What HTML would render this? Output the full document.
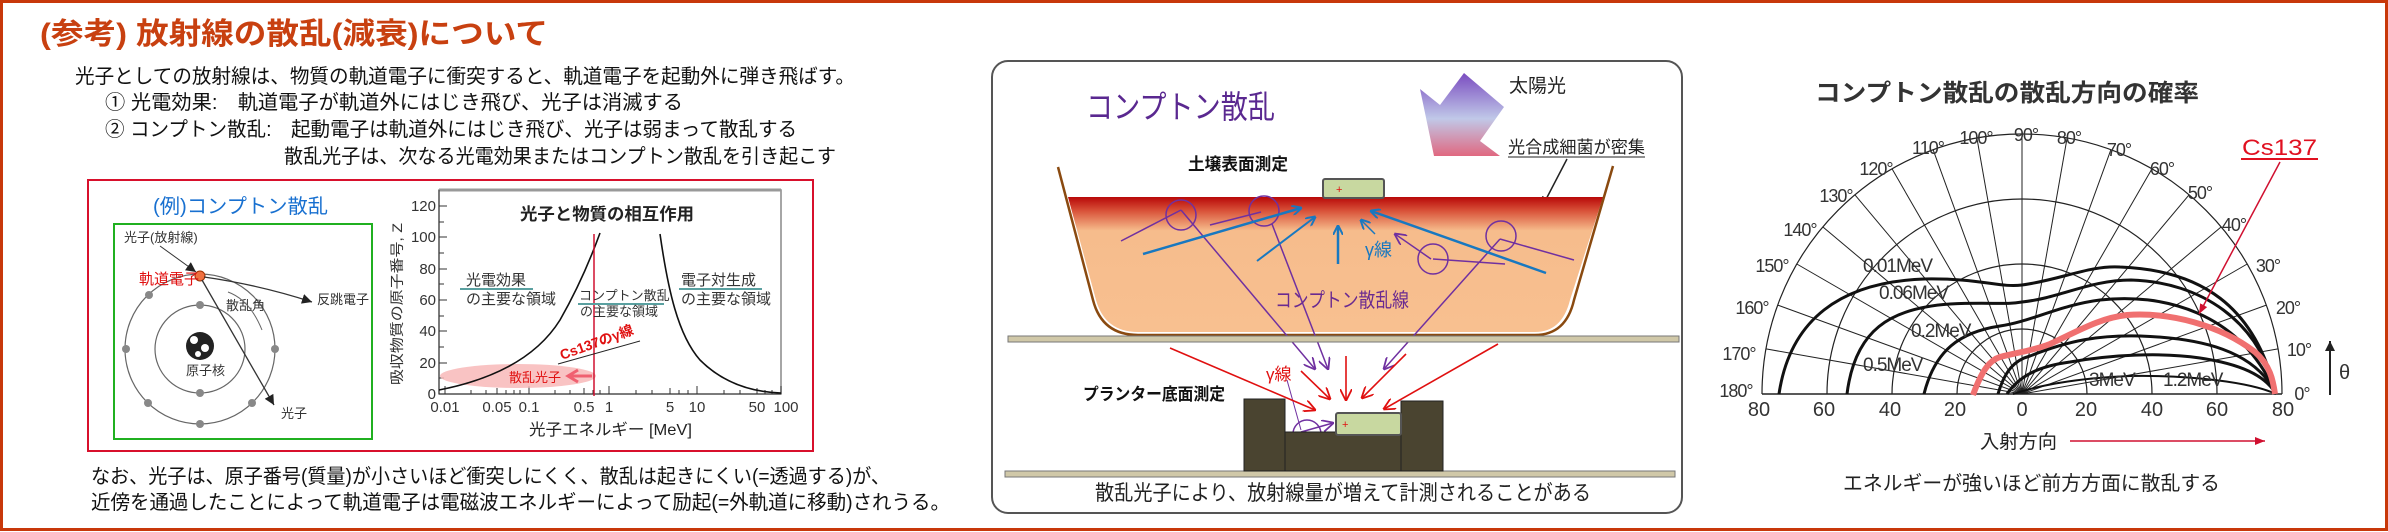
<!DOCTYPE html>
<html><head><meta charset="utf-8"><style>
html,body{margin:0;padding:0;background:#fff;}
svg{display:block;}
text{font-family:"Liberation Sans","Noto Sans CJK JP",sans-serif;}
</style></head><body>
<svg width="2388" height="532" viewBox="0 0 2388 532" xmlns="http://www.w3.org/2000/svg">
<defs>
<linearGradient id="soil" x1="0" y1="0" x2="0" y2="1">
<stop offset="0" stop-color="#b80808"/><stop offset="0.1" stop-color="#d85038"/><stop offset="0.25" stop-color="#f6bc8c"/><stop offset="1" stop-color="#f8c090"/></linearGradient>
<linearGradient id="sun" x1="0" y1="0" x2="0" y2="1">
<stop offset="0" stop-color="#7a4cc0"/><stop offset="0.55" stop-color="#c0c8e8"/><stop offset="1" stop-color="#e06880"/></linearGradient>
<marker id="ab" markerWidth="10" markerHeight="10" refX="9" refY="5" orient="auto" markerUnits="userSpaceOnUse"><path d="M0,0 L10,5 L0,10" fill="none" stroke="#1878c0" stroke-width="2"/></marker>
<marker id="ap" markerWidth="12" markerHeight="12" refX="11" refY="6" orient="auto" markerUnits="userSpaceOnUse"><path d="M0,0 L12,6 L0,12" fill="none" stroke="#7030a0" stroke-width="1.8"/></marker>
<marker id="ar" markerWidth="12" markerHeight="12" refX="11" refY="6" orient="auto" markerUnits="userSpaceOnUse"><path d="M0,0 L12,6 L0,12" fill="none" stroke="#e01010" stroke-width="1.8"/></marker>
<marker id="ak" markerWidth="10" markerHeight="10" refX="10" refY="5" orient="auto" markerUnits="userSpaceOnUse"><path d="M0,0 L10,5 L0,10 Z" fill="#222"/></marker>
<marker id="ared" markerWidth="10" markerHeight="10" refX="10" refY="5" orient="auto" markerUnits="userSpaceOnUse"><path d="M0,1 L10,5 L0,9 Z" fill="#d01030"/></marker>
</defs>
<!-- outer border -->
<rect x="1.5" y="1.5" width="2385" height="528" fill="none" stroke="#c8380a" stroke-width="3"/>

<!-- LEFT PANEL -->
<text x="40" y="44" font-size="30" font-weight="bold" fill="#c84010" textLength="508" lengthAdjust="spacingAndGlyphs">(参考) 放射線の散乱(減衰)について</text>
<g font-size="20" fill="#111">
<text x="75" y="83" textLength="780" lengthAdjust="spacingAndGlyphs">光子としての放射線は、物質の軌道電子に衝突すると、軌道電子を起動外に弾き飛ばす。</text>
<text x="105" y="109" textLength="578" lengthAdjust="spacingAndGlyphs">① 光電効果:　軌道電子が軌道外にはじき飛び、光子は消滅する</text>
<text x="105" y="136" textLength="692" lengthAdjust="spacingAndGlyphs">② コンプトン散乱:　起動電子は軌道外にはじき飛び、光子は弱まって散乱する</text>
<text x="284" y="163" textLength="552" lengthAdjust="spacingAndGlyphs">散乱光子は、次なる光電効果またはコンプトン散乱を引き起こす</text>
<text x="91" y="483" textLength="799" lengthAdjust="spacingAndGlyphs">なお、光子は、原子番号(質量)が小さいほど衝突しにくく、散乱は起きにくい(=透過する)が、</text>
<text x="91" y="509" textLength="859" lengthAdjust="spacingAndGlyphs">近傍を通過したことによって軌道電子は電磁波エネルギーによって励起(=外軌道に移動)されうる。</text>
</g>
<rect x="88" y="180" width="725" height="271" fill="none" stroke="#d8102c" stroke-width="2"/>
<text x="153" y="213" font-size="20" fill="#1870d0" textLength="175" lengthAdjust="spacingAndGlyphs">(例)コンプトン散乱</text>
<rect x="114" y="224" width="258" height="215" fill="none" stroke="#20b020" stroke-width="2"/>
<!-- atom -->
<ellipse cx="200" cy="349" rx="75" ry="75" fill="none" stroke="#666" stroke-width="1.2"/>
<ellipse cx="200" cy="349" rx="45" ry="44" fill="none" stroke="#666" stroke-width="1.2"/>
<circle cx="200" cy="346" r="14" fill="#222"/><circle cx="194" cy="340" r="4" fill="#fff"/><circle cx="205" cy="348" r="4" fill="#fff"/><circle cx="198" cy="354" r="3" fill="#fff"/>
<text x="186" y="375" font-size="13" fill="#333">原子核</text>
<g fill="#888"><circle cx="200" cy="305" r="4"/><circle cx="200" cy="393" r="4"/><circle cx="126" cy="349" r="4"/><circle cx="275" cy="349" r="4"/><circle cx="149" cy="295" r="4"/><circle cx="148" cy="403" r="4"/><circle cx="252" cy="403" r="4"/><circle cx="200" cy="424" r="4"/></g>
<circle cx="200" cy="276" r="5" fill="#f07040" stroke="#a03000"/>
<text x="124" y="242" font-size="13" fill="#333">光子(放射線)</text>
<text x="139" y="284" font-size="15" fill="#e01010">軌道電子</text>
<text x="226" y="310" font-size="13" fill="#333">散乱角</text>
<text x="317" y="304" font-size="13" fill="#333">反跳電子</text>
<text x="281" y="418" font-size="13" fill="#333">光子</text>
<line x1="160" y1="246" x2="196" y2="272" stroke="#333" marker-end="url(#ak)"/>
<path d="M204,277 Q260,285 312,302" fill="none" stroke="#333" stroke-width="1.3" marker-end="url(#ak)"/>
<line x1="202" y1="280" x2="274" y2="405" stroke="#333" stroke-width="1.3" marker-end="url(#ak)"/>
<path d="M228,292 Q250,300 262,330" fill="none" stroke="#666"/>
<!-- chart -->
<rect x="439" y="190" width="342" height="204" fill="none" stroke="#888" stroke-width="1.5"/>
<line x1="439" y1="190" x2="781" y2="190" stroke="#999" stroke-width="3"/>
<g stroke="#333" stroke-width="1"><line x1="439" y1="190" x2="439" y2="394"/><line x1="439" y1="394" x2="781" y2="394"/>
<line x1="439" y1="206" x2="447" y2="206"/><line x1="439" y1="237" x2="447" y2="237"/><line x1="439" y1="269" x2="447" y2="269"/><line x1="439" y1="300" x2="447" y2="300"/><line x1="439" y1="331" x2="447" y2="331"/><line x1="439" y1="363" x2="447" y2="363"/>
<line x1="439" y1="222" x2="444" y2="222"/><line x1="439" y1="253" x2="444" y2="253"/><line x1="439" y1="284" x2="444" y2="284"/><line x1="439" y1="316" x2="444" y2="316"/><line x1="439" y1="347" x2="444" y2="347"/><line x1="439" y1="378" x2="444" y2="378"/>
<line x1="445" y1="386" x2="445" y2="394"/><line x1="497" y1="388" x2="497" y2="394"/><line x1="529" y1="386" x2="529" y2="394"/><line x1="584" y1="388" x2="584" y2="394"/><line x1="609" y1="386" x2="609" y2="394"/><line x1="670" y1="388" x2="670" y2="394"/><line x1="697" y1="386" x2="697" y2="394"/><line x1="757" y1="388" x2="757" y2="394"/><line x1="781" y1="386" x2="781" y2="394"/>
<line x1="471" y1="390" x2="471" y2="394"/><line x1="486" y1="390" x2="486" y2="394"/><line x1="506" y1="390" x2="506" y2="394"/><line x1="514" y1="390" x2="514" y2="394"/><line x1="520" y1="390" x2="520" y2="394"/><line x1="555" y1="390" x2="555" y2="394"/><line x1="570" y1="390" x2="570" y2="394"/><line x1="593" y1="390" x2="593" y2="394"/><line x1="600" y1="390" x2="600" y2="394"/><line x1="636" y1="390" x2="636" y2="394"/><line x1="652" y1="390" x2="652" y2="394"/><line x1="679" y1="390" x2="679" y2="394"/><line x1="688" y1="390" x2="688" y2="394"/><line x1="724" y1="390" x2="724" y2="394"/><line x1="740" y1="390" x2="740" y2="394"/><line x1="765" y1="390" x2="765" y2="394"/><line x1="772" y1="390" x2="772" y2="394"/></g>
<g font-size="15" fill="#333" text-anchor="end"><text x="436" y="211">120</text><text x="436" y="242">100</text><text x="436" y="274">80</text><text x="436" y="305">60</text><text x="436" y="336">40</text><text x="436" y="368">20</text><text x="436" y="399">0</text></g>
<g font-size="15" fill="#333" text-anchor="middle"><text x="445" y="412">0.01</text><text x="497" y="412">0.05</text><text x="529" y="412">0.1</text><text x="584" y="412">0.5</text><text x="609" y="412">1</text><text x="670" y="412">5</text><text x="697" y="412">10</text><text x="757" y="412">50</text><text x="786" y="412">100</text></g>
<text x="529" y="435" font-size="16" fill="#222" textLength="163" lengthAdjust="spacingAndGlyphs">光子エネルギー [MeV]</text>
<text transform="translate(402,385) rotate(-90)" font-size="14" fill="#333" textLength="162" lengthAdjust="spacingAndGlyphs">吸収物質の原子番号, Z</text>
<text x="520" y="220" font-size="17" font-weight="bold" fill="#222" textLength="174" lengthAdjust="spacingAndGlyphs">光子と物質の相互作用</text>
<ellipse cx="518" cy="376" rx="78" ry="12" fill="#f8b8b8" opacity="0.85"/>
<path d="M439,390 C490,380 535,360 560,320 C580,285 592,255 600,233" fill="none" stroke="#111" stroke-width="1.6"/>
<path d="M660,234 C668,290 678,335 700,360 C722,382 750,392 781,393" fill="none" stroke="#111" stroke-width="1.6"/>
<line x1="594" y1="234" x2="594" y2="396" stroke="#d01030" stroke-width="1.5"/>
<text x="509" y="382" font-size="13" fill="#e01010">散乱光子</text>
<path d="M592,376 L570,376 M578,370 L568,376 L578,382" stroke="#f06070" stroke-width="3" fill="none"/>
<line x1="558" y1="364" x2="640" y2="341" stroke="#222" stroke-width="1"/>
<text transform="translate(562,360) rotate(-20)" font-size="14" font-weight="bold" fill="#e01010">Cs137のγ線</text>
<g font-size="15" fill="#333">
<text x="466" y="285">光電効果</text><line x1="460" y1="289" x2="533" y2="289" stroke="#5aa0a0" stroke-width="2"/><text x="466" y="304">の主要な領域</text>
<text x="579" y="300" font-size="13">コンプトン散乱</text><line x1="578" y1="304" x2="664" y2="304" stroke="#5aa0a0" stroke-width="2"/><text x="580" y="316" font-size="13">の主要な領域</text>
<text x="681" y="285">電子対生成</text><line x1="679" y1="289" x2="762" y2="289" stroke="#5aa0a0" stroke-width="2"/><text x="681" y="304">の主要な領域</text>
</g>

<!-- MIDDLE PANEL -->
<rect x="992" y="61" width="690" height="452" rx="16" fill="none" stroke="#555" stroke-width="2"/>
<text x="1086" y="118" font-size="32" fill="#5a2890" textLength="189" lengthAdjust="spacingAndGlyphs">コンプトン散乱</text>
<polygon points="1420,89 1440,105 1464,73 1504,107 1480,141 1500,156 1434,156" fill="url(#sun)"/>
<text x="1509" y="92" font-size="19" fill="#222">太陽光</text>
<text x="1508" y="153" font-size="17" fill="#222" textLength="137" lengthAdjust="spacingAndGlyphs">光合成細菌が密集</text>
<line x1="1508" y1="157" x2="1645" y2="157" stroke="#222"/>
<line x1="1567" y1="159" x2="1542" y2="207" stroke="#222" stroke-width="1.5" marker-end="url(#ak)"/>
<text x="1188" y="170" font-size="17" font-weight="bold" fill="#111" textLength="100" lengthAdjust="spacingAndGlyphs">土壌表面測定</text>
<path d="M1068,197 L1096,300 Q1105,332 1138,332 L1535,332 Q1562,332 1570,300 L1603,197 Z" fill="url(#soil)"/>
<path d="M1058,167 L1093,300 Q1102,335 1138,335 L1535,335 Q1566,335 1574,300 L1613,166" fill="none" stroke="#8a4a10" stroke-width="2.5"/>
<rect x="1323" y="179" width="61" height="19" rx="2" fill="#c8d8a0" stroke="#555" stroke-width="2"/>
<text x="1336" y="193" font-size="11" fill="#e01010">+</text>
<!-- purple circles and lines -->
<g fill="none" stroke="#7030a0" stroke-width="1.5">
<circle cx="1181" cy="215" r="15"/><circle cx="1264" cy="211" r="15"/><circle cx="1433" cy="259" r="15"/><circle cx="1501" cy="236" r="15"/><circle cx="1307" cy="434" r="14"/>
<line x1="1121" y1="241" x2="1181" y2="210"/><line x1="1210" y1="225" x2="1261" y2="212"/><line x1="1500" y1="239" x2="1574" y2="260"/><line x1="1433" y1="259" x2="1505" y2="264"/>
<line x1="1181" y1="210" x2="1315" y2="369" marker-end="url(#ap)"/>
<line x1="1272" y1="224" x2="1328" y2="369" marker-end="url(#ap)"/>
<line x1="1500" y1="239" x2="1384" y2="369" marker-end="url(#ap)"/>
<line x1="1431" y1="259" x2="1395" y2="234" marker-end="url(#ap)"/>
<line x1="1287" y1="380" x2="1301" y2="430" stroke-width="1"/>
<line x1="1301" y1="432" x2="1333" y2="423" marker-end="url(#ap)"/>
</g>
<g stroke="#1878c0" stroke-width="2.5" fill="none">
<line x1="1143" y1="254" x2="1301" y2="208" marker-end="url(#ab)"/>
<line x1="1257" y1="261" x2="1315" y2="217" marker-end="url(#ab)" stroke-width="2"/>
<line x1="1338" y1="264" x2="1338" y2="226" marker-end="url(#ab)"/>
<line x1="1375" y1="234" x2="1361" y2="220" marker-end="url(#ab)" stroke-width="1.5"/>
<line x1="1546" y1="273" x2="1371" y2="211" marker-end="url(#ab)"/>
</g>
<text x="1365" y="256" font-size="18" fill="#1878c0">γ線</text>
<text x="1275" y="307" font-size="20" fill="#6a2a90" textLength="134" lengthAdjust="spacingAndGlyphs">コンプトン散乱線</text>
<rect x="1008" y="336" width="671" height="6" fill="#d0c8a8" stroke="#777"/>
<rect x="1005" y="471" width="670" height="6" fill="#d0c8a8" stroke="#777"/>
<rect x="1244" y="399" width="41" height="72" fill="#4a4430" stroke="#222"/>
<rect x="1401" y="401" width="42" height="70" fill="#4a4430" stroke="#222"/>
<rect x="1285" y="432" width="116" height="39" fill="#4a4430" stroke="#222"/>
<rect x="1336" y="413" width="65" height="22" rx="2" fill="#c8d8a0" stroke="#555" stroke-width="2"/>
<text x="1342" y="428" font-size="11" fill="#e01010">+</text>
<g stroke="#e01010" stroke-width="1.6" fill="none">
<line x1="1170" y1="348" x2="1315" y2="410" marker-end="url(#ar)"/>
<line x1="1301" y1="371" x2="1330" y2="399" marker-end="url(#ar)"/>
<line x1="1346" y1="356" x2="1346" y2="400" marker-end="url(#ar)"/>
<line x1="1406" y1="354" x2="1362" y2="398" marker-end="url(#ar)"/>
<line x1="1498" y1="344" x2="1384" y2="409" marker-end="url(#ar)"/>
</g>
<text x="1266" y="380" font-size="17" fill="#e01010">γ線</text>
<text x="1083" y="400" font-size="17" font-weight="bold" fill="#111" textLength="142" lengthAdjust="spacingAndGlyphs">プランター底面測定</text>
<text x="1095" y="500" font-size="21" fill="#222" textLength="496" lengthAdjust="spacingAndGlyphs">散乱光子により、放射線量が増えて計測されることがある</text>

<!-- RIGHT PANEL -->
<text x="1815" y="101" font-size="24" font-weight="bold" fill="#333" textLength="384" lengthAdjust="spacingAndGlyphs">コンプトン散乱の散乱方向の確率</text>
<g fill="none" stroke="#222" stroke-width="1.2">
<path d="M1957,394 A65,65 0 0 1 2087,394"/><path d="M1892,394 A130,130 0 0 1 2152,394"/><path d="M1827,394 A195,195 0 0 1 2217,394"/><path d="M1762,394 A260,260 0 0 1 2282,394"/>
<line x1="1762" y1="394" x2="2282" y2="394" stroke-width="1.5"/>
<g stroke-width="1">
<line x1="2022" y1="394" x2="2278" y2="348.9"/><line x1="2022" y1="394" x2="2266.3" y2="305.1"/><line x1="2022" y1="394" x2="2247.2" y2="264"/><line x1="2022" y1="394" x2="2221.2" y2="226.9"/><line x1="2022" y1="394" x2="2189.1" y2="194.8"/><line x1="2022" y1="394" x2="2152" y2="168.8"/><line x1="2022" y1="394" x2="2110.9" y2="149.7"/><line x1="2022" y1="394" x2="2067.1" y2="138"/><line x1="2022" y1="394" x2="2022" y2="134"/><line x1="2022" y1="394" x2="1976.9" y2="138"/><line x1="2022" y1="394" x2="1933.1" y2="149.7"/><line x1="2022" y1="394" x2="1892" y2="168.8"/><line x1="2022" y1="394" x2="1854.9" y2="194.8"/><line x1="2022" y1="394" x2="1822.8" y2="226.9"/><line x1="2022" y1="394" x2="1796.8" y2="264"/><line x1="2022" y1="394" x2="1777.7" y2="305.1"/><line x1="2022" y1="394" x2="1766" y2="348.9"/>
</g></g>
<g fill="none" stroke="#111" stroke-width="3">
<path d="M1779,394 C1790,320 1840,282 1924,279 C1980,278 2000,288 2022,285 C2060,280 2090,265 2120,267 C2200,270 2255,305 2276,394"/>
<path d="M1847,394 C1855,330 1890,308 1950,304 C1990,302 2005,305 2022,302 C2060,298 2090,280 2131,280 C2200,282 2260,320 2276,394"/>
<path d="M1924,394 C1935,350 1960,332 2000,326 C2030,322 2060,305 2100,300 C2160,293 2240,310 2276,394"/>
<path d="M1998,394 C2005,370 2015,360 2030,356 C2070,340 2100,335 2140,336 C2200,338 2255,350 2276,394"/>
<path d="M2007,394 C2020,375 2040,366 2070,362 C2110,355 2160,352 2200,358 C2240,364 2265,375 2276,394"/>
<path d="M2013,394 C2040,385 2080,378 2130,376 C2190,375 2250,382 2276,394" stroke-width="2"/>
</g>
<path d="M1973,395 C1982,370 1990,360 2000,357 C2020,352 2035,350 2050,344 C2080,330 2100,318 2127,315 C2170,312 2220,325 2255,352 C2270,365 2273,380 2275,394" fill="none" stroke="#f07070" stroke-width="6"/>
<g font-size="19" fill="#333" letter-spacing="-1">
<text x="1863" y="272">0.01MeV</text><text x="1879" y="299">0.06MeV</text><text x="1911" y="337">0.2MeV</text><text x="1863" y="371">0.5MeV</text><text x="2089" y="386">3MeV</text><text x="2163" y="386">1.2MeV</text>
</g>
<g font-size="18" fill="#333" text-anchor="middle" letter-spacing="-1">
<text x="1736" y="397">180°</text><text x="1739" y="360">170°</text><text x="1752" y="314">160°</text><text x="1772" y="272">150°</text><text x="1800" y="236">140°</text><text x="1836" y="202">130°</text><text x="1876" y="175">120°</text><text x="1928" y="154">110°</text><text x="1976" y="144">100°</text><text x="2026" y="141">90°</text><text x="2069" y="144">80°</text><text x="2119" y="156">70°</text><text x="2162" y="175">60°</text><text x="2200" y="199">50°</text><text x="2234" y="231">40°</text><text x="2268" y="272">30°</text><text x="2288" y="314">20°</text><text x="2299" y="356">10°</text><text x="2302" y="400">0°</text>
</g>
<g font-size="20" fill="#333" text-anchor="middle"><text x="1759" y="416">80</text><text x="1824" y="416">60</text><text x="1890" y="416">40</text><text x="1955" y="416">20</text><text x="2022" y="416">0</text><text x="2086" y="416">20</text><text x="2152" y="416">40</text><text x="2217" y="416">60</text><text x="2283" y="416">80</text></g>
<text x="2242" y="155" font-size="22" fill="#e01020" textLength="75" lengthAdjust="spacingAndGlyphs">Cs137</text>
<line x1="2241" y1="159" x2="2318" y2="159" stroke="#e01020" stroke-width="2"/>
<line x1="2280" y1="162" x2="2199" y2="314" stroke="#d01030" stroke-width="1.5" marker-end="url(#ared)"/>
<line x1="2330" y1="395" x2="2330" y2="341" stroke="#222" stroke-width="2" marker-end="url(#ak)"/>
<text x="2339" y="379" font-size="20" fill="#333">θ</text>
<text x="1980" y="448" font-size="19" fill="#222" textLength="77" lengthAdjust="spacingAndGlyphs">入射方向</text>
<line x1="2070" y1="441" x2="2265" y2="441" stroke="#d01030" stroke-width="1.5" marker-end="url(#ared)"/>
<text x="1843" y="490" font-size="20" fill="#222" textLength="377" lengthAdjust="spacingAndGlyphs">エネルギーが強いほど前方方面に散乱する</text>
</svg>
</body></html>
